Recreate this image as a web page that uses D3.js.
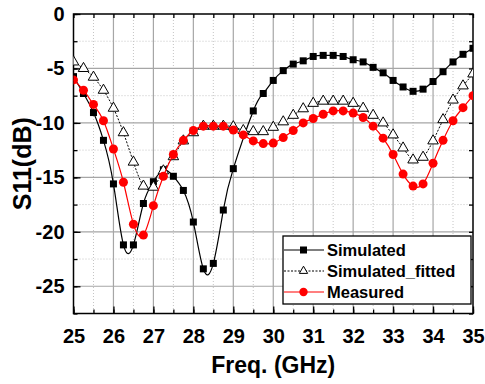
<!DOCTYPE html>
<html>
<head>
<meta charset="utf-8">
<script src="https://cdn.jsdelivr.net/npm/d3@7"></script>
<style>
  body { margin: 0; background: #fff; }
  svg { display: block; font-family: 'Liberation Sans', Arial, sans-serif; font-weight: bold; }
</style>
</head>
<body>
<svg id="chart" width="485" height="384"></svg>
<script>
// frequency points (GHz)
const freqs = [25, 25.25, 25.5, 25.75, 26, 26.25, 26.5, 26.75, 27, 27.25, 27.5, 27.75,
  28, 28.25, 28.5, 28.75, 29, 29.25, 29.5, 29.75, 30, 30.25, 30.5, 30.75, 31, 31.25,
  31.5, 31.75, 32, 32.25, 32.5, 32.75, 33, 33.25, 33.5, 33.75, 34, 34.25, 34.5, 34.75, 35]

// the simulated trace has no point at 29.25
const simFreqs = [25, 25.25, 25.5, 25.75, 26, 26.25, 26.5, 26.75, 27, 27.25, 27.5, 27.75,
  28, 28.25, 28.5, 28.75, 29, 29.5, 29.75, 30, 30.25, 30.5, 30.75, 31, 31.25,
  31.5, 31.75, 32, 32.25, 32.5, 32.75, 33, 33.25, 33.5, 33.75, 34, 34.25, 34.5, 34.75, 35]

const simulated = [-5.75, -7.3, -9.05, -11.6, -15.6, -21.2, -21.2, -17.4, -15.4, -14.3, -14.9, -16.2,
  -19.1, -23.4, -22.9, -18.0, -14.2, -8.9, -7.3, -6.1, -5.2, -4.6, -4.3, -3.9, -3.8,
  -3.8, -3.9, -4.2, -4.4, -4.9, -5.4, -6.1, -6.7, -7.1, -6.9, -6.2, -5.3, -4.4, -3.7, -3.15]

const fitted = [-4.4, -5.0, -5.8, -7.0, -8.65, -10.9, -13.6, -15.8, -15.9, -14.4, -13.1, -11.65,
  -10.9, -10.3, -10.3, -10.3, -10.35, -10.7, -10.8, -10.8, -10.4, -9.9, -9.3, -8.7, -8.2, -8.0,
  -8.0, -8.0, -8.2, -8.65, -9.3, -10.0, -11.1, -12.3, -13.4, -13.15, -11.65, -9.7, -7.9, -6.6, -5.5]

const measured = [-6.05, -7.0, -8.3, -9.8, -12.4, -15.45, -19.3, -20.3, -17.6, -14.9, -12.9, -11.6,
  -10.7, -10.3, -10.3, -10.3, -10.65, -11.1, -11.65, -11.9, -11.85, -11.35, -10.7, -10.0, -9.6, -9.2,
  -8.9, -8.9, -9.1, -9.5, -10.3, -11.4, -12.9, -14.7, -15.8, -15.6, -13.7, -11.6, -9.8, -8.6, -7.5]

const xTicks = [25, 26, 27, 28, 29, 30, 31, 32, 33, 34, 35]
const yTicks = [0, -5, -10, -15, -20, -25]
const legendNames = ['Simulated', 'Simulated_fitted', 'Measured']

const margin = { left: 73.5, top: 14, right: 12, bottom: 70.5 }
const width = 485 - margin.left - margin.right
const height = 384 - margin.top - margin.bottom

const svg = d3.select('#chart')
const g = svg.append('g')
  .attr('transform', 'translate(' + margin.left + ',' + margin.top + ')')

const x = d3.scaleLinear().domain([25, 35]).range([0, width])
const y = d3.scaleLinear().domain([-27.5, 0]).range([height, 0])

svg.append('defs').append('clipPath').attr('id', 'plot-clip')
  .append('rect').attr('width', width).attr('height', height)

// minor grid (dotted)
const minorX = d3.range(25.5, 35, 1)
const minorY = d3.range(-2.5, -27.5, -5)
g.append('g').selectAll('line').data(minorX).join('line')
  .attr('x1', d => x(d)).attr('x2', d => x(d))
  .attr('y1', 0).attr('y2', height)
  .attr('stroke', '#c4c4c4').attr('stroke-width', 1).attr('stroke-dasharray', '1,2')
g.append('g').selectAll('line').data(minorY).join('line')
  .attr('y1', d => y(d)).attr('y2', d => y(d))
  .attr('x1', 0).attr('x2', width)
  .attr('stroke', '#c4c4c4').attr('stroke-width', 1).attr('stroke-dasharray', '1,2')

// major grid
g.append('g').selectAll('line').data(xTicks.slice(1, -1)).join('line')
  .attr('x1', d => x(d)).attr('x2', d => x(d))
  .attr('y1', 0).attr('y2', height)
  .attr('stroke', '#a6a6a6').attr('stroke-width', 1.2)
g.append('g').selectAll('line').data(yTicks.slice(1)).join('line')
  .attr('y1', d => y(d)).attr('y2', d => y(d))
  .attr('x1', 0).attr('x2', width)
  .attr('stroke', '#a6a6a6').attr('stroke-width', 1.2)

// axes with inward ticks
function styleAxis (sel) {
  sel.select('.domain').remove()
  sel.selectAll('line').attr('stroke', '#000').attr('stroke-width', 1.3)
}
const xMinor = d3.range(25, 35.01, 0.5)
const yMinor = d3.range(0, -27.6, -2.5)
g.append('g').attr('transform', 'translate(0,' + height + ')')
  .call(d3.axisBottom(x).tickValues(xMinor).tickSize(-4).tickFormat(''))
  .call(styleAxis)
g.append('g')
  .call(d3.axisTop(x).tickValues(xMinor).tickSize(-4).tickFormat(''))
  .call(styleAxis)
g.append('g')
  .call(d3.axisLeft(y).tickValues(yMinor).tickSize(-4).tickFormat(''))
  .call(styleAxis)
g.append('g').attr('transform', 'translate(' + width + ',0)')
  .call(d3.axisRight(y).tickValues(yMinor).tickSize(-4).tickFormat(''))
  .call(styleAxis)

const xAxis = g.append('g').attr('transform', 'translate(0,' + height + ')')
  .call(d3.axisBottom(x).tickValues(xTicks).tickSize(-7).tickPadding(15).tickFormat(d => String(d)))
xAxis.select('.domain').remove()
xAxis.selectAll('line').attr('stroke', '#000').attr('stroke-width', 1.3)
xAxis.selectAll('text').attr('font-size', 20).attr('font-family', 'Liberation Sans, Arial, sans-serif')
  .attr('font-weight', 'bold').attr('fill', '#000')

const yAxis = g.append('g')
  .call(d3.axisLeft(y).tickValues(yTicks).tickSize(-7).tickPadding(9).tickFormat(d => String(d)))
yAxis.select('.domain').remove()
yAxis.selectAll('line').attr('stroke', '#000').attr('stroke-width', 1.3)
yAxis.selectAll('text').attr('font-size', 20).attr('font-family', 'Liberation Sans, Arial, sans-serif')
  .attr('font-weight', 'bold').attr('fill', '#000')

// frame
g.append('rect').attr('width', width).attr('height', height)
  .attr('fill', 'none').attr('stroke', '#000').attr('stroke-width', 1.5)

// series
const plot = g.append('g').attr('clip-path', 'url(#plot-clip)')
const line = d3.line().x(d => x(d[0])).y(d => y(d[1])).curve(d3.curveNatural)

const simData = simFreqs.map((f, i) => [f, simulated[i]])
const fitData = freqs.map((f, i) => [f, fitted[i]])
const measData = freqs.map((f, i) => [f, measured[i]])

plot.append('path').datum(simData).attr('d', line)
  .attr('fill', 'none').attr('stroke', '#000').attr('stroke-width', 1.2)
plot.append('g').selectAll('rect').data(simData).join('rect')
  .attr('x', d => x(d[0]) - 3.5).attr('y', d => y(d[1]) - 3.5)
  .attr('width', 7).attr('height', 7).attr('fill', '#000')

const triangle = d3.symbol().type(d3.symbolTriangle).size(48)
plot.append('path').datum(fitData).attr('d', line)
  .attr('fill', 'none').attr('stroke', '#000').attr('stroke-width', 1).attr('stroke-dasharray', '2,1.5')
plot.append('g').selectAll('path').data(fitData).join('path')
  .attr('d', triangle)
  .attr('transform', d => 'translate(' + x(d[0]) + ',' + y(d[1]) + ')')
  .attr('fill', '#fff').attr('stroke', '#000').attr('stroke-width', 1)

plot.append('path').datum(measData).attr('d', line)
  .attr('fill', 'none').attr('stroke', '#ff0000').attr('stroke-width', 1.2)
plot.append('g').selectAll('circle').data(measData).join('circle')
  .attr('cx', d => x(d[0])).attr('cy', d => y(d[1])).attr('r', 4.5)
  .attr('fill', '#ff0000')

// legend
const legend = g.append('g').attr('transform', 'translate(' + (283 - margin.left) + ',' + (236 - margin.top) + ')')
legend.append('rect').attr('width', 188).attr('height', 68)
  .attr('fill', '#fff').attr('stroke', '#000').attr('stroke-width', 1.3)
const rows = legend.selectAll('g.row').data(legendNames).join('g')
  .attr('class', 'row')
  .attr('transform', (d, i) => 'translate(0,' + (14 + i * 21) + ')')
rows.append('line').attr('x1', 1).attr('x2', 41).attr('y1', 0).attr('y2', 0)
  .attr('stroke', (d, i) => i === 2 ? '#ff0000' : '#000')
  .attr('stroke-width', (d, i) => i === 1 ? 1 : 1.2)
  .attr('stroke-dasharray', (d, i) => i === 1 ? '2,1.5' : null)
rows.filter((d, i) => i === 0).append('rect')
  .attr('x', 17).attr('y', -3.5).attr('width', 7).attr('height', 7).attr('fill', '#000')
rows.filter((d, i) => i === 1).append('path')
  .attr('d', d3.symbol().type(d3.symbolTriangle).size(30))
  .attr('transform', 'translate(20.5,0)')
  .attr('fill', '#fff').attr('stroke', '#000')
rows.filter((d, i) => i === 2).append('circle')
  .attr('cx', 20.5).attr('cy', 0).attr('r', 4.2).attr('fill', '#ff0000')
rows.append('text').text(d => d)
  .attr('x', 44).attr('y', 0).attr('dy', '0.36em')
  .attr('font-size', 16.5).attr('fill', '#000')

// axis titles
svg.append('text').text('Freq. (GHz)')
  .attr('x', margin.left + width / 2).attr('y', 373)
  .attr('text-anchor', 'middle').attr('font-size', 23)
svg.append('text').text('S11(dB)')
  .attr('transform', 'translate(31,' + (margin.top + height / 2) + ') rotate(-90)')
  .attr('text-anchor', 'middle').attr('font-size', 25)
</script>
</body>
</html>
